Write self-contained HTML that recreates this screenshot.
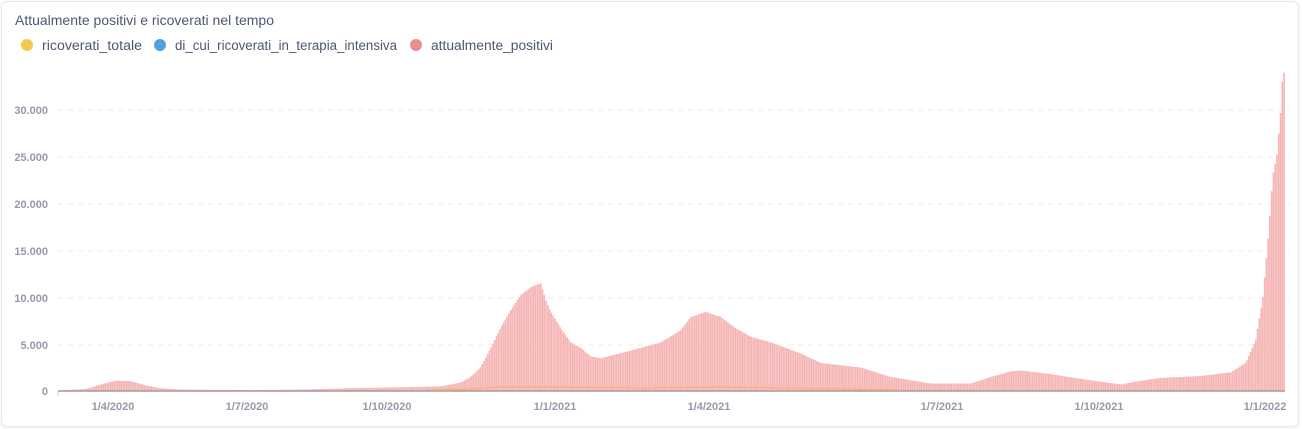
<!DOCTYPE html>
<html><head><meta charset="utf-8"><style>
html,body{margin:0;padding:0;background:#fff;}
body{width:1302px;height:429px;overflow:hidden;font-family:"Liberation Sans",sans-serif;}
.card{position:absolute;left:1px;top:1px;width:1296px;height:424px;border:1px solid #e8e8ec;border-radius:6px;box-shadow:0 1px 3px rgba(0,0,0,0.08);}
</style></head><body>
<div class="card"></div>
<svg width="1302" height="429" style="position:absolute;left:0;top:0" font-family="Liberation Sans, sans-serif">
<text x="15" y="25" font-size="13.8" fill="#4c5773" textLength="259" lengthAdjust="spacingAndGlyphs">Attualmente positivi e ricoverati nel tempo</text>
<circle cx="27" cy="45" r="6" fill="#f1c94c"/><text x="42" y="50" font-size="13.5" fill="#4c5773" textLength="100" lengthAdjust="spacingAndGlyphs">ricoverati_totale</text>
<circle cx="160" cy="45" r="6" fill="#509ee3"/><text x="175" y="50" font-size="13.5" fill="#4c5773" textLength="222" lengthAdjust="spacingAndGlyphs">di_cui_ricoverati_in_terapia_intensiva</text>
<circle cx="416" cy="45" r="6" fill="#ef8c8c"/><text x="431" y="50" font-size="13.5" fill="#4c5773" textLength="122" lengthAdjust="spacingAndGlyphs">attualmente_positivi</text>
<g stroke="#eceef2" stroke-dasharray="5,5" stroke-width="1">
<line x1="58" y1="110" x2="1290" y2="110"/><line x1="58" y1="157" x2="1290" y2="157"/>
<line x1="58" y1="204" x2="1290" y2="204"/><line x1="58" y1="251" x2="1290" y2="251"/>
<line x1="58" y1="298" x2="1290" y2="298"/><line x1="58" y1="345" x2="1290" y2="345"/>
</g>
<g font-size="11" font-weight="bold" fill="#949aab" text-anchor="end">
<text x="48" y="114">30.000</text><text x="48" y="161">25.000</text><text x="48" y="208">20.000</text>
<text x="48" y="255">15.000</text><text x="48" y="302">10.000</text><text x="48" y="349">5.000</text><text x="48" y="395">0</text>
</g>
<g id="bars" fill="#f5b5b5"></g>
<line x1="58" y1="391" x2="1285" y2="391" stroke="#a99" stroke-width="1.5"/>
<polyline points="430,390 470,389 500,387 560,387 640,388 720,387 780,388 850,389 900,390" fill="none" stroke="#f3b483" stroke-width="1.5"/>
<line x1="58" y1="391" x2="58" y2="396" stroke="#ccc"/>
<g font-size="11" font-weight="bold" fill="#949aab" text-anchor="middle">
<text x="113" y="410">1/4/2020</text><text x="247" y="410">1/7/2020</text><text x="387" y="410">1/10/2020</text>
<text x="555" y="410">1/1/2021</text><text x="709" y="410">1/4/2021</text><text x="942" y="410">1/7/2021</text>
<text x="1099" y="410">1/10/2021</text><text x="1265" y="410">1/1/2022</text>
</g>
</svg>
<script>
var k=[[62,100],[85,200],[100,700],[115,1100],[130,1050],[145,600],[160,300],[180,150],[250,100],[300,150],[350,300],[400,400],[440,500],[460,900],[470,1500],[480,2560],[490,4600],[500,6800],[510,8650],[520,10250],[530,11100],[540,11500],[545,9700],[550,8450],[560,6700],[570,5200],[580,4600],[590,3700],[600,3500],[620,4050],[640,4600],[660,5200],[680,6500],[690,7900],[705,8450],[720,7900],[735,6700],[750,5800],[770,5200],[790,4400],[800,4000],[820,3000],[860,2500],[890,1500],[930,800],[970,800],[990,1500],[1010,2100],[1020,2200],[1050,1800],[1080,1300],[1120,700],[1140,1100],[1160,1400],[1200,1600],[1230,2000],[1245,3000],[1255,5500],[1262,10000],[1268,17000],[1272,23000],[1276,25000],[1280,30000],[1282,34000],[1284,34000]];
function v(x){for(var i=1;i<k.length;i++){if(x<=k[i][0]){var a=k[i-1],b=k[i];return a[1]+(b[1]-a[1])*(x-a[0])/(b[0]-a[0]);}}return k[k.length-1][1];}
var g=document.getElementById('bars'),s='';
for(var x=62;x<=1284;x+=1.77){var h=v(x)*0.00936;s+='<rect x="'+x.toFixed(2)+'" y="'+(391-h).toFixed(2)+'" width="1.6" height="'+h.toFixed(2)+'"/>';}
g.innerHTML=s;
</script>
</body></html>
